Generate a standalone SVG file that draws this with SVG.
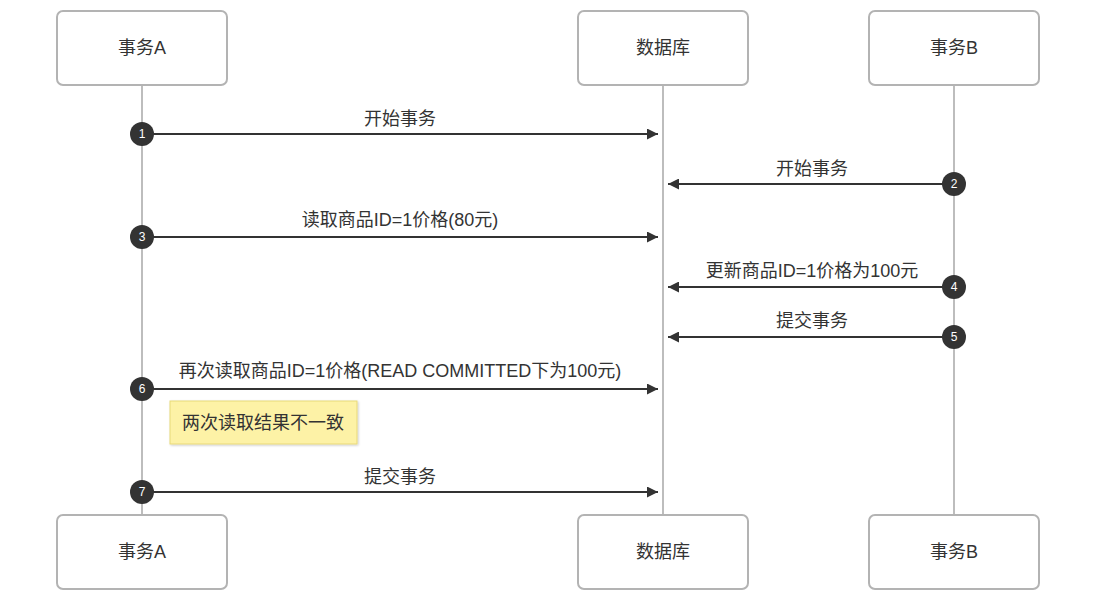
<svg xmlns="http://www.w3.org/2000/svg" width="1098" height="603" viewBox="0 0 1098 603">
<defs>
<style>
.box{fill:#fff;stroke:#b3b3b3;stroke-width:2}
.life{stroke:#bdbdbd;stroke-width:2}
.t{font-family:"Liberation Sans","Noto Sans CJK SC",sans-serif;font-size:18px;fill:#333;text-anchor:middle}
.msg{stroke:#333;stroke-width:2;fill:none}
.num{fill:#333}
.nt{font-family:"Liberation Sans",sans-serif;font-size:12px;fill:#fff;text-anchor:middle}
</style>
<marker id="ah" viewBox="0 0 10 10" refX="10" refY="5" markerWidth="11" markerHeight="11" markerUnits="userSpaceOnUse" orient="auto">
<path d="M0,0 L10,5 L0,10 z" fill="#333"/>
</marker>
<filter id="sh" x="-10%" y="-20%" width="120%" height="150%">
<feDropShadow dx="1" dy="1" stdDeviation="1" flood-color="#000" flood-opacity="0.2"/>
</filter>
</defs>
<rect width="1098" height="603" fill="#fff"/>
<g id="lifelines">
<line class="life" x1="142" y1="85" x2="142" y2="515"/>
<line class="life" x1="663" y1="85" x2="663" y2="515"/>
<line class="life" x1="954" y1="85" x2="954" y2="515"/>
</g>
<g id="txA-top"><rect class="box" x="57" y="11" width="170" height="74" rx="6"/><text class="t" x="142" y="54">事务A</text></g>
<g id="db-top"><rect class="box" x="578" y="11" width="170" height="74" rx="6"/><text class="t" x="663" y="54">数据库</text></g>
<g id="txB-top"><rect class="box" x="869" y="11" width="170" height="74" rx="6"/><text class="t" x="954" y="54">事务B</text></g>
<g id="txA-bottom"><rect class="box" x="57" y="515" width="170" height="74" rx="6"/><text class="t" x="142" y="558">事务A</text></g>
<g id="db-bottom"><rect class="box" x="578" y="515" width="170" height="74" rx="6"/><text class="t" x="663" y="558">数据库</text></g>
<g id="txB-bottom"><rect class="box" x="869" y="515" width="170" height="74" rx="6"/><text class="t" x="954" y="558">事务B</text></g>
<g id="connectors">
<line class="msg" x1="142" y1="134" x2="658" y2="134" marker-end="url(#ah)"/>
<text class="t" x="400" y="125">开始事务</text>
<line class="msg" x1="954" y1="184" x2="668" y2="184" marker-end="url(#ah)"/>
<text class="t" x="812" y="175">开始事务</text>
<line class="msg" x1="142" y1="237" x2="658" y2="237" marker-end="url(#ah)"/>
<text class="t" x="400" y="226">读取商品ID=1价格(80元)</text>
<line class="msg" x1="954" y1="287" x2="668" y2="287" marker-end="url(#ah)"/>
<text class="t" x="812" y="277">更新商品ID=1价格为100元</text>
<line class="msg" x1="954" y1="337" x2="668" y2="337" marker-end="url(#ah)"/>
<text class="t" x="812" y="327">提交事务</text>
<line class="msg" x1="142" y1="389" x2="658" y2="389" marker-end="url(#ah)"/>
<text class="t" x="400" y="377">再次读取商品ID=1价格(READ COMMITTED下为100元)</text>
<line class="msg" x1="142" y1="492" x2="658" y2="492" marker-end="url(#ah)"/>
<text class="t" x="400" y="483">提交事务</text>
</g>
<g id="numbers">
<circle class="num" cx="142" cy="134" r="12"/><text class="nt" x="142" y="138">1</text>
<circle class="num" cx="954" cy="184" r="12"/><text class="nt" x="954" y="188">2</text>
<circle class="num" cx="142" cy="237" r="12"/><text class="nt" x="142" y="241">3</text>
<circle class="num" cx="954" cy="287" r="12"/><text class="nt" x="954" y="291">4</text>
<circle class="num" cx="954" cy="337" r="12"/><text class="nt" x="954" y="341">5</text>
<circle class="num" cx="142" cy="389" r="12"/><text class="nt" x="142" y="393">6</text>
<circle class="num" cx="142" cy="492" r="12"/><text class="nt" x="142" y="496">7</text>
</g>
<g id="note">
<rect x="170" y="401" width="187" height="43" fill="#fdf2a6" stroke="#e8d978" stroke-width="1" filter="url(#sh)"/>
<text class="t" x="263" y="429">两次读取结果不一致</text>
</g>
</svg>
